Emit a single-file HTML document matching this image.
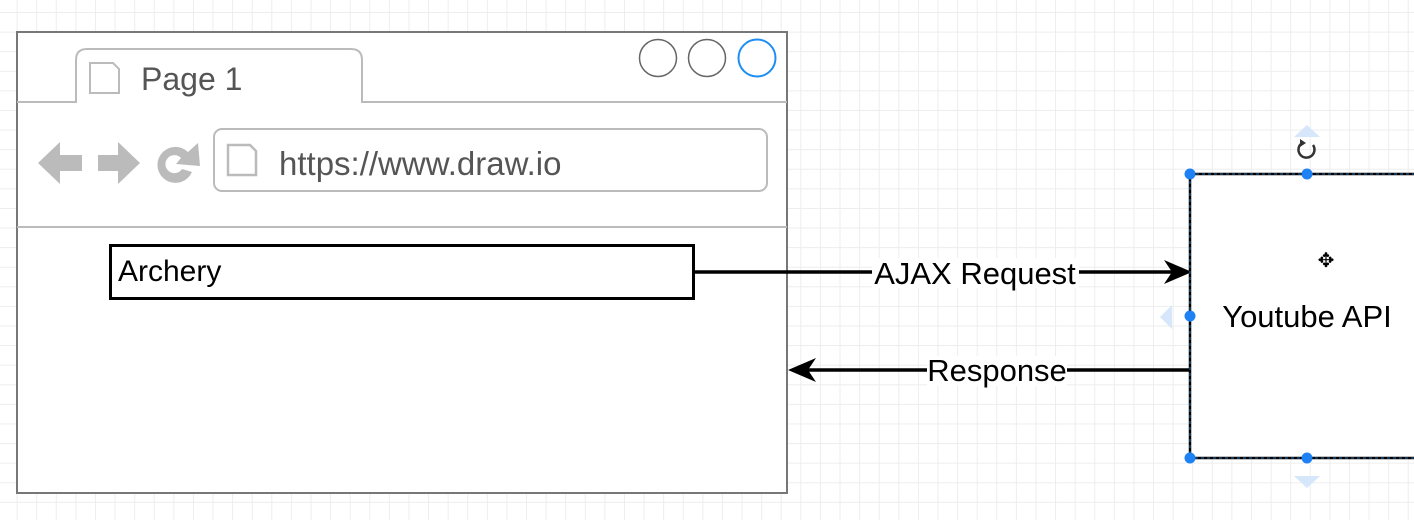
<!DOCTYPE html>
<html><head><style>
body{margin:0;width:1414px;height:520px;overflow:hidden;background:#fff;
background-image:linear-gradient(#ededed 1px,transparent 1px),linear-gradient(90deg,#ededed 1px,transparent 1px);
background-size:19.6px 19.6px;background-position:-3px 12px;font-family:"Liberation Sans",sans-serif}
</style></head><body>
<svg width="1414" height="520" style="position:absolute;left:0;top:0">
<rect x="17" y="32" width="770" height="461" fill="#fff" stroke="#777" stroke-width="2"/>
<path d="M17 102 H76 V60 Q76 49 87 49 H351 Q362 49 362 60 V102 H787" fill="none" stroke="#bbb" stroke-width="2"/>
<path d="M90 63 H113 L119 69 V93 H90 Z" fill="none" stroke="#bbb" stroke-width="2"/>
<text x="141" y="90" font-size="32" fill="#555">Page 1</text>
<circle cx="658" cy="58" r="18.5" fill="#fff" stroke="#666" stroke-width="1.5"/>
<circle cx="707" cy="58" r="18.5" fill="#fff" stroke="#666" stroke-width="1.5"/>
<circle cx="757" cy="58" r="18.5" fill="#fff" stroke="#1e8ef5" stroke-width="2"/>
<line x1="17" y1="227" x2="787" y2="227" stroke="#bbb" stroke-width="2"/>
<rect x="214" y="129" width="553" height="62" rx="8" fill="#fff" stroke="#bbb" stroke-width="2"/>
<path d="M228 145 H250 L256 151 V175 H228 Z" fill="none" stroke="#bbb" stroke-width="2.5"/>
<text x="279" y="175" font-size="33" fill="#555">https://www.draw.io</text>
<path d="M38 163 L60 142 V155 H82 V171 H60 V184 Z" fill="#bbb"/>
<path d="M140 163 L118 142 V155 H98 V171 H118 V184 Z" fill="#bbb"/>
<path d="M188 152 A18 18 0 1 0 192 172 L182 169 A9 9 0 1 1 181 158 L176 164 L200 166 L198 143 Z" fill="#bbb"/>
<rect x="110.5" y="245.5" width="583" height="53" fill="#fff" stroke="#000" stroke-width="3"/>
<text x="118" y="281" font-size="30" fill="#000">Archery</text>
<line x1="693" y1="272" x2="1175" y2="272" stroke="#000" stroke-width="3.5"/>
<path d="M1192 272 L1164 260 L1172 272 L1164 284 Z" fill="#000"/>
<rect x="872" y="258" width="207" height="30" fill="#fff"/>
<text x="975" y="284" font-size="31" text-anchor="middle">AJAX Request</text>
<line x1="1189" y1="370" x2="805" y2="370" stroke="#000" stroke-width="3.5"/>
<path d="M788 370 L816 358 L808 370 L816 382 Z" fill="#000"/>
<rect x="927" y="356" width="140" height="30" fill="#fff"/>
<text x="997" y="381" font-size="31" text-anchor="middle">Response</text>
<rect x="1190" y="174" width="240" height="284" fill="#fff" stroke="#000" stroke-width="2.5"/>
<rect x="1190" y="174" width="240" height="284" fill="none" stroke="#2a6fb0" stroke-width="1" stroke-dasharray="3 3"/>
<text x="1307" y="327" font-size="31" text-anchor="middle">Youtube API</text>
<path d="M1294 137 L1307 125 L1320 137 Z" fill="#d6e6fb"/>
<path d="M1294 476 L1307 488 L1320 476 Z" fill="#d6e6fb"/>
<path d="M1172 305 L1160 317 L1172 329 Z" fill="#d6e6fb"/>
<path d="M1302 143 A8 8 0 1 0 1313 145" fill="none" stroke="#333" stroke-width="2.5"/>
<path d="M1300 139 L1306 143 L1300 147 Z" fill="#333"/>
<text x="1326" y="267" font-size="20" text-anchor="middle">✥</text>
<g fill="#1e82f5"><circle cx="1190" cy="174" r="5.5"/><circle cx="1307" cy="174" r="5.5"/><circle cx="1190" cy="316" r="5.5"/><circle cx="1190" cy="458" r="5.5"/><circle cx="1307" cy="458" r="5.5"/></g>
</svg>
</body></html>
